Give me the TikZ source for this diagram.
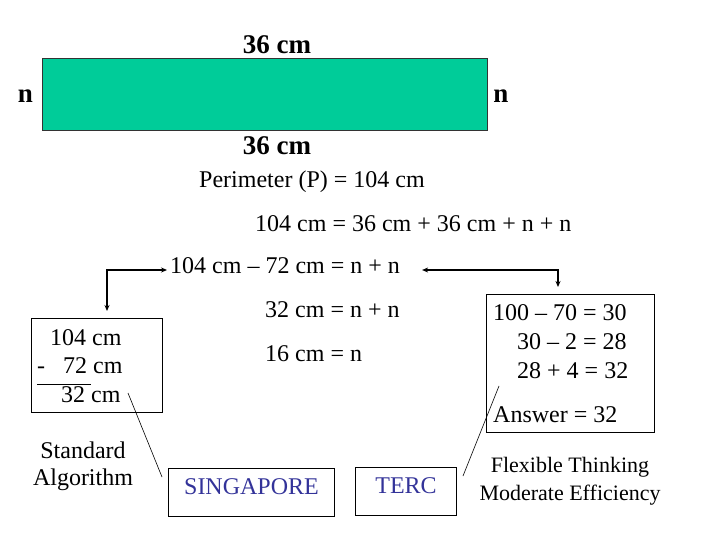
\documentclass[tikz,border=0pt]{standalone}
\usepackage{fontspec}
\setmainfont{Liberation Serif}
\usetikzlibrary{arrows.meta}
\definecolor{fieldgreen}{RGB}{0,204,153}
\definecolor{methodblue}{RGB}{51,51,153}
\begin{document}
\begin{tikzpicture}[x=1pt,y=-1pt,
  txt/.style={inner sep=0pt,anchor=base west,font=\fontsize{24}{28}\selectfont},
  side/.style={inner sep=0pt,anchor=base,font=\fontsize{27}{30}\selectfont\bfseries},
  frame/.style={draw=black,line width=1pt,inner sep=0pt,anchor=north west},
  method/.style={frame,text=methodblue,font=\fontsize{24}{28}\selectfont,text height=16pt,text depth=12pt},
  link/.style={line width=1.5pt,{Stealth[length=6pt,width=5pt]}-{Stealth[length=6pt,width=5pt]}}]
\useasboundingbox (0,0) rectangle (720,540);
% the rectangle
\node[draw=black!80,line width=.8pt,fill=fieldgreen,inner sep=0pt,anchor=north west,
  minimum width=445pt,minimum height=72pt] (field) at (42,58) {};
\node[side] (top) at (277,54) {36 cm};
\node[side] (bottom) at (277,155) {36 cm};
\node[side] (left) at (25.5,103) {n};
\node[side] (right) at (501,103) {n};
% working
\node[txt] (eqA) at (199,188) {Perimeter (P) = 104 cm};
\node[txt] (eqB) at (255,232) {104 cm = 36 cm + 36 cm + n + n};
\node[txt] (eqC) at (170,273) {104 cm -- 72 cm = n + n};
\node[txt] (eqD) at (265,317) {32 cm = n + n};
\node[txt] (eqE) at (265,361) {16 cm = n};
% standard algorithm
\node[frame,minimum width=131pt,minimum height=94pt] (stdbox) at (31,318) {};
\node[txt] (sub1) at (50,345) {104 cm};
\node[txt] (sub2m) at (37,373) {-};
\node[txt] (sub2) at (63,373) {72 cm};
\node[txt] (sub3) at (61,402) {32 cm};
\draw[line width=.8pt] (37,384) -- (91,384);
\node[txt,anchor=base,align=center,font=\fontsize{24}{27}\selectfont] (stdname) at (83,485) {Standard\\Algorithm};
% mental maths
\node[frame,minimum width=168pt,minimum height=138pt] (mentbox) at (486,294) {};
\node[txt] (m1) at (493,320) {100 -- 70 = 30};
\node[txt] (m2) at (517,349) {30 -- 2 = 28};
\node[txt] (m3) at (517,378) {28 + 4 = 32};
\node[txt] (m4) at (493,422) {Answer = 32};
\node[txt,anchor=base,align=center,font=\fontsize{22}{28}\selectfont] (mentname) at (570,500)
  {Flexible Thinking\\Moderate Efficiency};
% methods
\node[method,minimum width=166pt,minimum height=48pt] (sing) at (168,468) {SINGAPORE};
\node[method,minimum width=101pt,minimum height=48pt] (terc) at (355,467) {TERC};
% arrows
\coordinate (lbend) at (107,270);
\coordinate (rbend) at (558,270);
\draw[link,shorten <=3pt,shorten >=7pt] (eqC.west |- lbend) -- (lbend) -- (lbend |- stdbox.north);
\draw[link,shorten <=22pt,shorten >=7pt] (eqC.east |- rbend) -- (rbend) -- (rbend |- mentbox.north);
% pointers
\coordinate (p1) at (128,393);
\coordinate (p1e) at (162,477);
\coordinate (p2) at (499,386);
\coordinate (p2e) at (463,476);
\draw[line width=.6pt] (p1) -- (p1e);
\draw[line width=.6pt] (p2) -- (p2e);
\end{tikzpicture}
\end{document}
